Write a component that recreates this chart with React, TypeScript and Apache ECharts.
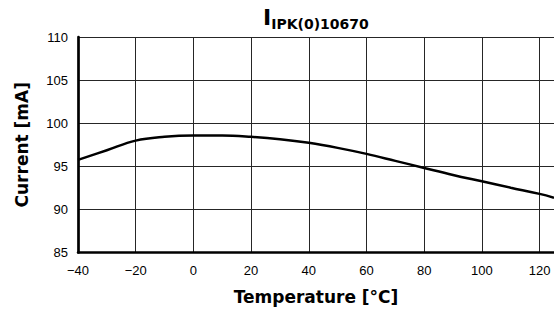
import React, { useEffect, useRef } from "react";
import * as echarts from "echarts";

const temperatures = [-40, -30, -20, -10, 0, 10, 20, 30, 40, 50, 60, 70, 80, 90, 100, 110, 120, 125];
const currents = [95.74, 96.86, 97.98, 98.42, 98.57, 98.57, 98.42, 98.14, 97.72, 97.14, 96.44, 95.63, 94.81, 94.0, 93.26, 92.52, 91.8, 91.36];

const xTitle = "Temperature [°C]";
const yTitle = "Current [mA]";
const titleMain = "I";
const titleSub = "IPK(0)10670";

export default function App() {
  const ref = useRef<HTMLDivElement>(null);
  useEffect(() => {
    if (!ref.current) return;
    const chart = echarts.init(ref.current, undefined, { renderer: "svg" });
    const bold = "DejaVu Sans";
    chart.setOption({
      animation: false,
      backgroundColor: "#ffffff",
      title: {
        text: `{a|${titleMain}}{b|${titleSub}}`,
        left: 263,
        top: 3,
        padding: 0,
        textStyle: {
          rich: {
            a: { fontFamily: bold, fontWeight: "bold", fontSize: 22, color: "#000", verticalAlign: "bottom", lineHeight: 25 },
            b: { fontFamily: bold, fontWeight: "bold", fontSize: 14, color: "#000", verticalAlign: "bottom", lineHeight: 18, padding: [0, 0, -3, 0] },
          },
        },
      },
      grid: { left: 78, top: 37, width: 477, height: 215.5, containLabel: false },
      xAxis: {
        type: "value",
        min: -40,
        max: 125,
        interval: 20,
        name: xTitle,
        nameLocation: "middle",
        nameGap: 36,
        nameTextStyle: { fontFamily: bold, fontWeight: "bold", fontSize: 17, color: "#000" },
        axisLine: { show: true, onZero: false, lineStyle: { color: "#000", width: 2.5 } },
        axisTick: { show: false },
        axisLabel: {
          showMaxLabel: false,
          margin: 11,
          fontFamily: "Liberation Sans",
          fontSize: 13,
          color: "#000",
          formatter: (v: number) => (v < 0 ? "\u2212" + Math.abs(v) : String(v)),
        },
        splitLine: { show: true, lineStyle: { color: "#262626", width: 1 } },
      },
      yAxis: {
        type: "value",
        min: 85,
        max: 110,
        interval: 5,
        name: yTitle,
        nameLocation: "middle",
        nameGap: 48,
        nameTextStyle: { fontFamily: bold, fontWeight: "bold", fontSize: 17, color: "#000" },
        axisLine: { show: true, onZero: false, lineStyle: { color: "#000", width: 2.7 } },
        axisTick: { show: false },
        axisLabel: { margin: 10, fontFamily: "Liberation Sans", fontSize: 13, color: "#000" },
        splitLine: { show: true, lineStyle: { color: "#262626", width: 1 } },
      },
      series: [
        {
          type: "line",
          data: temperatures.map((t, i) => [t, currents[i]]),
          smooth: 0.4,
          showSymbol: false,
          lineStyle: { color: "#000", width: 2.5 },
          clip: true,
        },
      ],
    });
    return () => chart.dispose();
  }, []);
  return <div ref={ref} style={{ width: 554, height: 311, position: "absolute", left: 0, top: 0 }} />;
}
